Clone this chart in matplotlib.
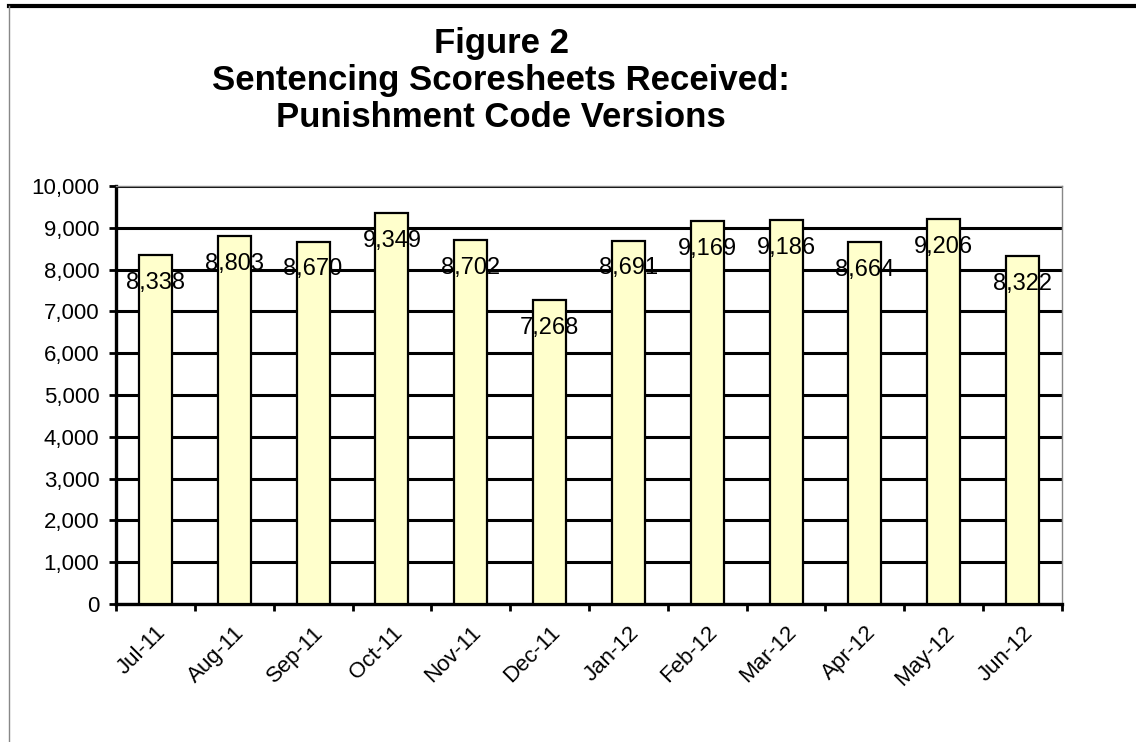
import numpy as np
import matplotlib.pyplot as plt
from matplotlib.lines import Line2D

months = ["Jul-11", "Aug-11", "Sep-11", "Oct-11", "Nov-11", "Dec-11",
          "Jan-12", "Feb-12", "Mar-12", "Apr-12", "May-12", "Jun-12"]
counts = [8338, 8803, 8670, 9349, 8702, 7268, 8691, 9169, 9186, 8664, 9206, 8322]
title_lines = ["Figure 2", "Sentencing Scoresheets Received:", "Punishment Code Versions"]

plt.rcParams['font.family'] = ['Liberation Sans', 'DejaVu Sans']

W, H = 1136, 742
fig = plt.figure(figsize=(W / 100, H / 100), dpi=100)
ax = fig.add_axes([116/W, 138/H, 946/W, 418/H])

x = np.arange(len(months))
ax.bar(x, counts, width=0.42, color='#FFFFCC', edgecolor='black', linewidth=1.6, zorder=3)

for xi, v in zip(x, counts):
    ax.annotate(f"{v:,}", (xi, v), xytext=(0, -20), textcoords='offset points',
                ha='center', va='center', fontsize=17, zorder=4)

ax.set_xlim(-0.5, len(months) - 0.5)
ax.set_ylim(0, 10000)
ax.set_yticks(np.arange(0, 10001, 1000))
ax.set_yticklabels([f"{t:,}" for t in range(0, 10001, 1000)], fontsize=16)
ax.yaxis.grid(True, color='black', linewidth=2.2, zorder=1)
ax.set_axisbelow(True)

# ticks on the category boundaries, names at the centres
ax.set_xticks(np.arange(-0.5, len(months), 1.0))
ax.set_xticklabels([])
ax.set_xticks(x, minor=True)
ax.set_xticklabels(months, minor=True, rotation=45, ha='right', rotation_mode='anchor', fontsize=16)
ax.tick_params(axis='x', which='major', direction='out', length=5, width=2)
ax.tick_params(axis='x', which='minor', length=0, pad=13)
ax.tick_params(axis='y', direction='out', length=5, width=2, pad=7)

for s in ['left', 'bottom']:
    ax.spines[s].set_linewidth(2.4)
    ax.spines[s].set_color('black')
for s in ['top', 'right']:
    ax.spines[s].set_linewidth(1)
    ax.spines[s].set_color('#888888')

for line, base in zip(title_lines, [53, 90, 127]):
    fig.text(501/W, 1 - base/H, line, ha='center', va='baseline', fontsize=25,
             fontweight='bold')

# outer frame: heavy top rule, thin left rule
fig.add_artist(Line2D([9/W, 1], [1 - 6/H, 1 - 6/H], color='black', linewidth=3))
fig.add_artist(Line2D([9/W, 9/W], [0, 1 - 6/H], color='#888888', linewidth=1))

fig.savefig("out.png", dpi=100)
